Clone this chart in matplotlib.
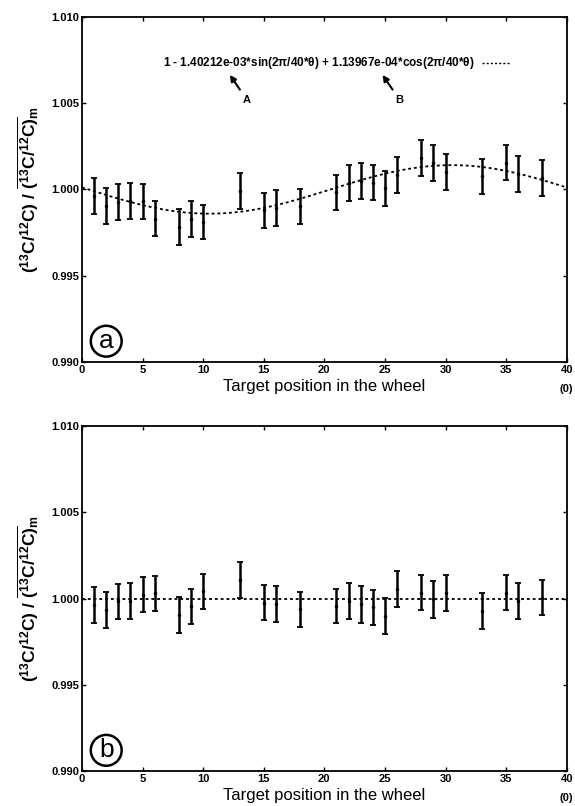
import numpy as np
import matplotlib.pyplot as plt

pos = [1, 2, 3, 4, 5, 6, 8, 9, 10, 13, 15, 16, 18,
       21, 22, 23, 24, 25, 26, 28, 29, 30, 33, 35, 36, 38]

ratio_a = [0.99964, 0.99906, 0.99925, 0.99935, 0.99931, 0.99829, 0.99782,
           0.99829, 0.99810, 0.99992, 0.99878, 0.99891, 0.99902,
           0.99983, 1.00038, 1.00050, 1.00040, 1.00006, 1.00084, 1.00181,
           1.00155, 1.00099, 1.00076, 1.00155, 1.00087, 1.00066]

ratio_b = [0.99963, 0.99932, 0.99983, 0.99985, 1.00023, 1.00031, 0.99905,
           0.99954, 1.00041, 1.00106, 0.99977, 0.99967, 0.99938,
           0.99957, 0.99986, 0.99966, 0.99949, 0.99899, 1.00053, 1.00034,
           0.99995, 1.00034, 0.99928, 1.00034, 0.99986, 1.00005]

err = [0.00104, 0.00105, 0.00104, 0.00105, 0.00103, 0.00102, 0.00104,
       0.00103, 0.00100, 0.00105, 0.00101, 0.00103, 0.00101,
       0.00101, 0.00103, 0.00105, 0.00101, 0.00103, 0.00104, 0.00103,
       0.00105, 0.00104, 0.00103, 0.00102, 0.00104, 0.00103]

# fit coefficients printed in panel (a)
c_sin = 1.40212e-03
c_cos = 1.13967e-04

#------- plot appearance
params = {'font.family': 'Liberation Sans',
          'font.weight': 'bold',
          'mathtext.fontset': 'custom',
          'mathtext.rm': 'Liberation Sans:bold',
          'mathtext.it': 'Liberation Sans:bold',
          'mathtext.bf': 'Liberation Sans:bold',
          'xtick.direction': 'in',
          'ytick.direction': 'in',
          'xtick.top': True,
          'ytick.right': True,
          'xtick.labelsize': 8,
          'ytick.labelsize': 8,
          'axes.linewidth': 1.3,
          }
plt.rcParams.update(params)

fig = plt.figure(figsize=(5.75, 8.06), dpi=100)
ax_a = fig.add_axes([0.1426, 0.551, 0.843, 0.428])
ax_b = fig.add_axes([0.1426, 0.0434, 0.843, 0.428])

theta = np.linspace(0, 40, 400)
fit = 1 - c_sin*np.sin(2*np.pi/40*theta) + c_cos*np.cos(2*np.pi/40*theta)

ylab = r'$(^{13}C/^{12}C)\ /\ \overline{(^{13}C/^{12}C)}_m$'

for ax, vals, tag in [(ax_a, ratio_a, 'a'), (ax_b, ratio_b, 'b')]:
    if tag == 'a':
        ax.plot(theta, fit, color='k', lw=1.3, dashes=(1.6, 1.6))
    else:
        ax.plot([0, 40], [1, 1], color='k', lw=1.3, dashes=(1.6, 1.6))
    ax.errorbar(pos, vals, yerr=err, fmt='.', color='k', ms=3,
                elinewidth=1.8, capsize=2, capthick=1.3)
    ax.set_xlim(0, 40)
    ax.set_ylim(0.990, 1.010)
    ax.set_xticks(np.arange(0, 41, 5))
    ax.set_yticks([0.990, 0.995, 1.000, 1.005, 1.010])
    ax.set_yticklabels(['0.990', '0.995', '1.000', '1.005', '1.010'])
    ax.tick_params(length=3, width=1, pad=2)
    ax.set_ylabel(ylab, fontsize=12.5, labelpad=7)
    ax.set_xlabel('Target position in the wheel', fontsize=12,
                  fontweight='normal', labelpad=3)
    ax.text(40, -0.064, '(0)', transform=ax.get_xaxis_transform(),
            ha='center', va='top', fontsize=8)
    # circled panel tag
    ax.text(2.0, 0.9912, tag, ha='center', va='center',
            fontsize=19, fontweight='normal',
            bbox=dict(boxstyle='circle,pad=0.13', fc='none', ec='k', lw=1.8))

# legend-like line of formula in panel (a)
ax_a.text(32.4, 1.00733,
          r'1 - 1.40212e-03*sin(2$\pi$/40*$\theta$) + 1.13967e-04*cos(2$\pi$/40*$\theta$)',
          ha='right', va='center', fontsize=8.5)
ax_a.plot([33.0, 35.3], [1.00733, 1.00733], color='k', lw=1, dashes=(1.5, 1.5))

ax_a.annotate('A', xy=(12.2, 1.00664), xytext=(13.6, 1.0052),
              ha='center', va='center', fontsize=8,
              arrowprops=dict(arrowstyle='-|>', color='k', lw=1.5,
                              mutation_scale=9, shrinkB=0))
ax_a.annotate('B', xy=(24.8, 1.00664), xytext=(26.2, 1.0052),
              ha='center', va='center', fontsize=8,
              arrowprops=dict(arrowstyle='-|>', color='k', lw=1.5,
                              mutation_scale=9, shrinkB=0))

plt.savefig('out.png', dpi=100)
